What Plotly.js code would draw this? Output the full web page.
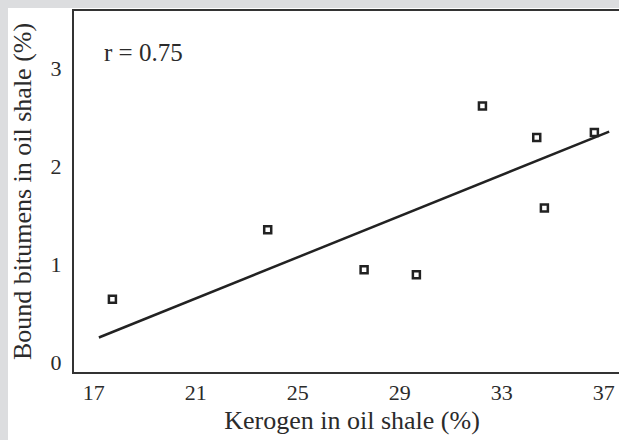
<!DOCTYPE html>
<html>
<head>
<meta charset="utf-8">
<script src="https://cdn.plot.ly/plotly-3.0.1.min.js"></script>
<style>
  html, body { margin: 0; padding: 0; background: #dcdddf; overflow: hidden; width: 619px; height: 440px; }
  #chart { position: absolute; left: 8px; top: 8px; width: 622px; height: 432px; background: #fff; }
</style>
</head>
<body>
<div id="chart"></div>
<script>
// Kerogen content vs. bound bitumen content in oil shale samples
const kerogen = [17.73, 23.82, 27.60, 29.65, 32.24, 34.37, 34.67, 36.63];
const bitumens = [0.64, 1.35, 0.94, 0.89, 2.61, 2.29, 1.57, 2.34];

// Linear trend line end points
const fitX = [17.2, 37.21];
const fitY = [0.25, 2.35];

const xTicks = [17, 21, 25, 29, 33, 37];
const yTicks = [0, 1, 2, 3];
const corrLabel = 'r = 0.75';

const serif = 'Liberation Serif, Times New Roman, serif';
const ink = '#2b2b2b';

const traces = [
  {
    x: fitX, y: fitY, mode: 'lines', type: 'scatter',
    line: { color: '#222', width: 2.5 }, hoverinfo: 'skip'
  },
  {
    x: kerogen, y: bitumens, mode: 'markers', type: 'scatter',
    marker: { symbol: 'square-open', size: 7, color: '#222', line: { width: 2.5, color: '#222' } }
  }
];

const layout = {
  width: 622, height: 432,
  margin: { l: 66, r: 0, t: 3, b: 68 },
  paper_bgcolor: '#ffffff', plot_bgcolor: '#ffffff',
  showlegend: false,
  font: { family: serif, color: ink },
  xaxis: {
    range: [16.224, 38.027],
    tickvals: xTicks, ticktext: xTicks.map(String),
    ticks: '', showgrid: false, zeroline: false,
    showline: true, linecolor: '#333', linewidth: 2, mirror: true,
    tickfont: { family: serif, size: 22, color: ink },
    title: { text: 'Kerogen in oil shale (%)', font: { family: serif, size: 26, color: ink }, standoff: 6 }
  },
  yaxis: {
    range: [-0.102, 3.58],
    tickvals: yTicks, ticktext: yTicks.map(String),
    ticks: '', showgrid: false, zeroline: false,
    showline: true, linecolor: '#333', linewidth: 2, mirror: true,
    tickfont: { family: serif, size: 22, color: ink },
    ticklabelstandoff: 6,
    title: { text: 'Bound bitumens in oil shale (%)', font: { family: serif, size: 26, color: ink }, standoff: 12 }
  },
  annotations: [
    {
      x: 17.32, y: 3.16, xref: 'x', yref: 'y', xanchor: 'left', yanchor: 'middle',
      text: corrLabel, showarrow: false,
      font: { family: serif, size: 25, color: ink }
    }
  ]
};

Plotly.newPlot('chart', traces, layout, { displayModeBar: false, staticPlot: true });
</script>
</body>
</html>
